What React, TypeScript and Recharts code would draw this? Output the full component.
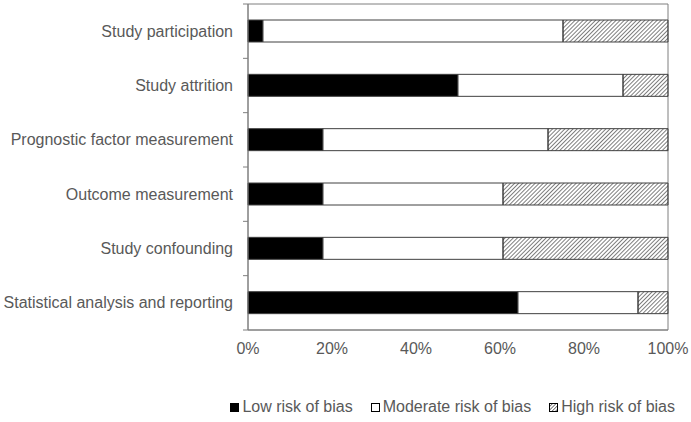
import { Bar, BarChart, ReferenceArea, XAxis, YAxis } from "recharts";

const categories = [
  "Study participation",
  "Study attrition",
  "Prognostic factor measurement",
  "Outcome measurement",
  "Study confounding",
  "Statistical analysis and reporting",
];

// number of studies per domain
const lowRisk = [1, 14, 5, 5, 5, 18];
const moderateRisk = [20, 11, 15, 12, 12, 8];
const highRisk = [7, 3, 8, 11, 11, 2];

const seriesNames = ["Low risk of bias", "Moderate risk of bias", "High risk of bias"];
const xTicks = [0, 0.2, 0.4, 0.6, 0.8, 1];

const data = categories.map((name, i) => ({
  name,
  low: lowRisk[i],
  moderate: moderateRisk[i],
  high: highRisk[i],
}));

const textColor = "#595959";
const lineColor = "#7f7f7f";
const barStroke = "#404040";
const font = "'Liberation Sans', Arial, sans-serif";

const CategoryTick = (props: any) => {
  const { x, y, payload, height, index } = props;
  const half = height / categories.length / 2;
  return (
    <g>
      <line x1={x - 5} x2={x} y1={y - half} y2={y - half} stroke={lineColor} />
      {index === categories.length - 1 && (
        <line x1={x - 5} x2={x} y1={y + half} y2={y + half} stroke={lineColor} />
      )}
      <text x={x - 15} y={y} dy="0.35em" textAnchor="end" fill={textColor} fontSize={16} fontFamily={font}>
        {payload.value}
      </text>
    </g>
  );
};

const Swatch = ({ kind }: { kind: number }) => (
  <svg width={9} height={9} style={{ marginRight: 3 }}>
    <defs>
      <pattern id="hatchLegend" patternUnits="userSpaceOnUse" width={2.5} height={2.5} patternTransform="rotate(45)">
        <line x1={0} y1={0} x2={0} y2={2.5} stroke="#000" strokeWidth={1} />
      </pattern>
    </defs>
    <rect
      x={0.5}
      y={0.5}
      width={8}
      height={8}
      fill={kind === 0 ? "#000" : kind === 1 ? "#fff" : "url(#hatchLegend)"}
      stroke="#000"
    />
  </svg>
);

const App = () => {
  return (
    <div style={{ position: "absolute", left: 0, top: 0, width: 691, height: 422, background: "#fff" }}>
      <BarChart
        width={691}
        height={422}
        data={data}
        layout="vertical"
        stackOffset="expand"
        barSize={22}
        margin={{ top: 4, right: 23, left: 0, bottom: 62 }}
      >
        <defs>
          <pattern id="hatch" patternUnits="userSpaceOnUse" width={2.9} height={2.9} patternTransform="rotate(45)">
            <line x1={0} y1={0} x2={0} y2={2.9} stroke="#000" strokeWidth={1} />
          </pattern>
        </defs>
        <XAxis
          type="number"
          domain={[0, 1]}
          ticks={xTicks}
          tickFormatter={(v: number) => `${Math.round(v * 100)}%`}
          tickLine={false}
          tickMargin={7}
          axisLine={{ stroke: lineColor }}
          tick={{ fill: textColor, fontSize: 16, fontFamily: font }}
          height={30}
        />
        <YAxis
          type="category"
          dataKey="name"
          width={248}
          tickLine={false}
          tickSize={0}
          tickMargin={0}
          axisLine={{ stroke: lineColor }}
          tick={<CategoryTick />}
          interval={0}
        />
        <ReferenceArea x1={0} x2={1} fill="none" stroke={lineColor} strokeWidth={1} ifOverflow="visible" />
        <Bar dataKey="low" stackId="a" fill="#000" stroke={barStroke} isAnimationActive={false} />
        <Bar dataKey="moderate" stackId="a" fill="#fff" stroke={barStroke} isAnimationActive={false} />
        <Bar dataKey="high" stackId="a" fill="url(#hatch)" stroke={barStroke} isAnimationActive={false} />
      </BarChart>
      <div
        style={{
          position: "absolute",
          top: 398,
          left: 0,
          width: 691,
          display: "flex",
          justifyContent: "flex-end",
          paddingRight: 16,
          boxSizing: "border-box",
          fontFamily: font,
          fontSize: 16,
          color: textColor,
        }}
      >
        {seriesNames.map((n, i) => (
          <div key={n} style={{ display: "flex", alignItems: "center", marginLeft: i === 0 ? 0 : 18 }}>
            <Swatch kind={i} />
            <span>{n}</span>
          </div>
        ))}
      </div>
    </div>
  );
};

export default App;
